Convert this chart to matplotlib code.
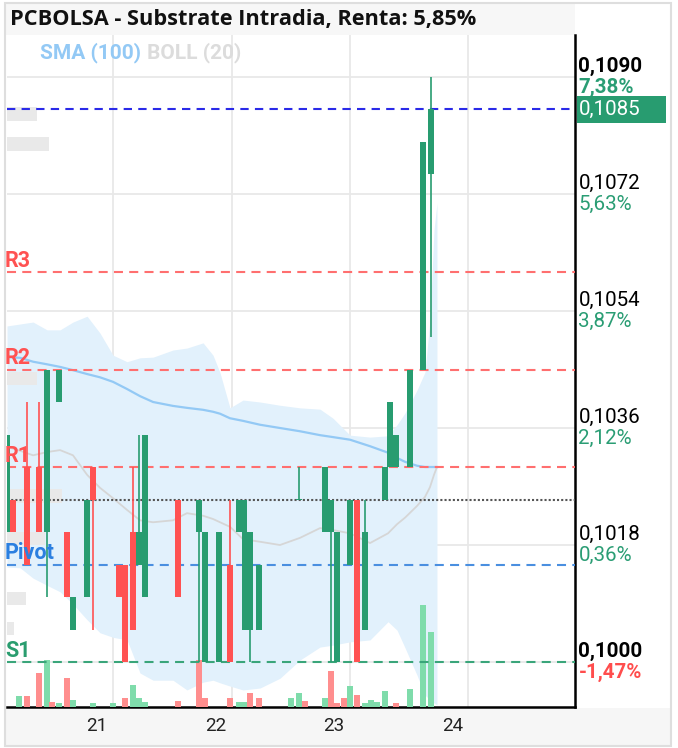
import numpy as np
import matplotlib
matplotlib.use("Agg")
import matplotlib.pyplot as plt
from matplotlib.patches import Rectangle
from matplotlib.transforms import blended_transform_factory

plt.rcParams['font.family'] = ['Roboto', 'DejaVu Sans']
plt.rcParams['lines.scale_dashes'] = False

# ---------------- data ----------------
# candles: time (day of month, fractional), open, high, low, close
c_time = [20.240, 20.291, 20.409, 20.511, 20.578, 20.679, 20.747, 20.797, 20.916, 20.966,
          21.186, 21.236, 21.304, 21.354, 21.405, 21.684, 21.861, 21.911, 22.030, 22.122,
          22.198, 22.245, 22.291, 22.367, 22.705, 22.924, 22.975, 23.025, 23.135, 23.194,
          23.262, 23.430, 23.473, 23.523, 23.641, 23.751, 23.819]
c_open = [0.1020, 0.1025, 0.1030, 0.1030, 0.1020, 0.1040, 0.1020, 0.1005, 0.1010, 0.1030,
          0.1015, 0.1015, 0.1020, 0.1015, 0.1010, 0.1025, 0.1020, 0.1000, 0.1000, 0.1015,
          0.1020, 0.1005, 0.1005, 0.1005, 0.1025, 0.1020, 0.1020, 0.1000, 0.1015, 0.1025,
          0.1005, 0.1025, 0.1030, 0.1030, 0.1030, 0.1045, 0.1075]
c_high = [0.1035, 0.1025, 0.1040, 0.1040, 0.1045, 0.1045, 0.1020, 0.1010, 0.1025, 0.1030,
          0.1015, 0.1015, 0.1030, 0.1035, 0.1035, 0.1025, 0.1025, 0.1020, 0.1020, 0.1025,
          0.1025, 0.1025, 0.1020, 0.1015, 0.1030, 0.1030, 0.1025, 0.1020, 0.1025, 0.1025,
          0.1025, 0.1030, 0.1040, 0.1035, 0.1045, 0.1080, 0.1090]
c_low = [0.1020, 0.1020, 0.1015, 0.1020, 0.1010, 0.1040, 0.1010, 0.1005, 0.1010, 0.1005,
         0.1010, 0.1000, 0.1005, 0.1015, 0.1010, 0.1010, 0.1000, 0.1000, 0.1000, 0.1000,
         0.1020, 0.1005, 0.1000, 0.1005, 0.1025, 0.1020, 0.1000, 0.1000, 0.1015, 0.1000,
         0.1005, 0.1025, 0.1030, 0.1030, 0.1030, 0.1045, 0.1050]
c_close = [0.1035, 0.1020, 0.1015, 0.1020, 0.1045, 0.1045, 0.1010, 0.1010, 0.1025, 0.1025,
           0.1010, 0.1000, 0.1005, 0.1020, 0.1035, 0.1010, 0.1025, 0.1020, 0.1020, 0.1000,
           0.1025, 0.1025, 0.1020, 0.1015, 0.1025, 0.1030, 0.1025, 0.1020, 0.1025, 0.1000,
           0.1020, 0.1030, 0.1040, 0.1035, 0.1045, 0.1080, 0.1085]

# volume: time, volume, up (1) / down (0)
v_time = [20.342, 20.409, 20.511, 20.578, 20.620, 20.679, 20.747, 20.797, 20.966, 21.135,
          21.236, 21.304, 21.354, 21.405, 21.684, 21.861, 21.911, 22.122, 22.198, 22.245,
          22.291, 22.367, 22.637, 22.705, 22.755, 22.924, 22.975, 23.025, 23.084, 23.135,
          23.194, 23.262, 23.312, 23.363, 23.430, 23.523, 23.641, 23.751, 23.819]
v_vol = [11000, 11000, 34000, 47000, 5000, 4000, 29000, 7000, 4000, 4000,
         9000, 22000, 9000, 5000, 6000, 47000, 9000, 9000, 5000, 5000,
         14000, 9000, 9000, 14000, 6000, 9000, 36000, 4000, 9000, 21000,
         12000, 4000, 7000, 5000, 16000, 4000, 18000, 102000, 75000]
v_up = [1, 0, 0, 1, 0, 1, 0, 1, 1, 1,
        0, 1, 1, 1, 0, 0, 0, 0, 1, 1,
        0, 0, 1, 1, 0, 1, 0, 0, 0, 1,
        0, 1, 1, 1, 1, 0, 1, 1, 1]

# indicators
i_time = [20.240, 20.350, 20.460, 20.578, 20.688, 20.797, 20.916, 21.025, 21.135, 21.253,
          21.363, 21.473, 21.641, 21.759, 21.895, 21.979, 22.038, 22.122, 22.232, 22.376,
          22.544, 22.713, 22.882, 22.992, 23.135, 23.304, 23.456, 23.532, 23.599, 23.700,
          23.768, 23.810, 23.844, 23.869]
boll_upper = [0.10517, 0.10520, 0.10523, 0.10511, 0.10511, 0.10523, 0.10532, 0.10506, 0.10472, 0.10462,
              0.10468, 0.10469, 0.10480, 0.10483, 0.10491, 0.10472, 0.10445, 0.10391, 0.10403, 0.10400,
              0.10395, 0.10391, 0.10389, 0.10375, 0.10349, 0.10346, 0.10348, 0.10365, 0.10383, 0.10418,
              0.10446, 0.10526, 0.10665, 0.10706]
boll_lower = [0.10146, 0.10145, 0.10129, 0.10118, 0.10108, 0.10089, 0.10065, 0.10045, 0.10038, 0.10034,
              0.09983, 0.09972, 0.09972, 0.09957, 0.09969, 0.09972, 0.09968, 0.09963, 0.09957, 0.09960,
              0.09975, 0.10003, 0.10023, 0.10026, 0.10031, 0.10034, 0.10062, 0.10049, 0.10022, 0.09980,
              0.09949, 0.09942, 0.09937, 0.09934]
boll_mid = [0.10331, 0.10325, 0.10318, 0.10323, 0.10326, 0.10318, 0.10288, 0.10268, 0.10252, 0.10234,
            0.10218, 0.10215, 0.10218, 0.10229, 0.10225, 0.10220, 0.10215, 0.10208, 0.10189, 0.10185,
            0.10180, 0.10191, 0.10206, 0.10203, 0.10198, 0.10183, 0.10198, 0.10212, 0.10222, 0.10240,
            0.10254, 0.10269, 0.10288, 0.10300]
sma100 = [0.10469, 0.10468, 0.10462, 0.10458, 0.10454, 0.10449, 0.10443, 0.10438, 0.10431, 0.10420,
          0.10409, 0.10400, 0.10394, 0.10391, 0.10388, 0.10385, 0.10382, 0.10375, 0.10371, 0.10365,
          0.10360, 0.10355, 0.10349, 0.10346, 0.10342, 0.10332, 0.10322, 0.10314, 0.10308, 0.10302,
          0.10300, 0.10300, 0.10300, 0.10300]

# levels
level_names = ['R3', 'R2', 'R1', 'Pivot', 'S1']
level_values = [0.1060, 0.1045, 0.1030, 0.1015, 0.1000]
last_price = 0.1085
prev_close = 0.1025

# axis labels
y_ticks = [0.1000, 0.1018, 0.1036, 0.1054, 0.1072, 0.1090]
y_tick_labels = ['0,1000', '0,1018', '0,1036', '0,1054', '0,1072', '0,1090']
y_pct_labels = ['-1,47%', '0,36%', '2,12%', '3,87%', '5,63%', '7,38%']
x_ticks = [21, 22, 23, 24]
x_tick_labels = ['21', '22', '23', '24']
x_grid = [21.135, 22.135, 23.135, 24.135]

title = 'PCBOLSA - Substrate Intradia, Renta: 5,85%'

# ---------------- style ----------------
GREEN = '#289c70'
RED = '#ff5252'
VGREEN = '#7fdcab'
VRED = '#ff8e8e'
W, H = 678, 748

fig = plt.figure(figsize=(W / 100, H / 100), dpi=100)
fig.patch.set_facecolor('white')

def fx(px):
    return px / W

def fy(py):
    return 1 - py / H

# frame, title band, bottom band (behind the axes)
fig.patches.append(Rectangle((fx(5), fy(746)), fx(666), 38 / H, transform=fig.transFigure,
                             facecolor='#f6f6f6', edgecolor='none', zorder=-3))
fig.patches.append(Rectangle((fx(5), fy(35)), fx(570), 31 / H, transform=fig.transFigure,
                             facecolor='#f7f7f7', edgecolor='none', zorder=-3))
fig.patches.append(Rectangle((fx(4.5), fy(746)), fx(666), 743 / H, transform=fig.transFigure,
                             facecolor='none', edgecolor='#dedede', lw=1.5, zorder=-2))

ax = fig.add_axes([fx(7), 1 - 707 / H, fx(568), 672 / H])
ax.set_facecolor('none')
ax.set_xlim(20.240, 25.034)
ax.set_ylim(0.099308, 0.109646)

# grid
ax.set_yticks(y_ticks)
ax.set_yticklabels([])
ax.tick_params(axis='y', length=0, right=False, left=False)
ax.set_xticks(x_ticks)
ax.set_xticklabels(x_tick_labels, fontsize=13.5, color='#222222')
ax.set_xticks(x_grid, minor=True)
ax.tick_params(axis='x', which='both', length=0, pad=7)
ax.grid(axis='y', color='#e8e8e8', lw=1.3, zorder=0)
ax.grid(axis='x', which='minor', color='#e8e8e8', lw=1.3, zorder=0)
ax.set_axisbelow(True)
for s in ['left', 'top']:
    ax.spines[s].set_visible(False)
ax.spines['right'].set_color('black')
ax.spines['right'].set_linewidth(1.8)
ax.spines['bottom'].set_color('black')
ax.spines['bottom'].set_linewidth(1.8)

# bollinger band
ax.fill_between(i_time, boll_lower, boll_upper, color='#e2f1fc', lw=0, zorder=1)
ax.plot(i_time, boll_mid, color='#d6d6d6', lw=1.3, zorder=2)
ax.plot(i_time, sma100, color='#93c9f5', lw=1.6, zorder=2)

# left blurred label boxes (decoration, drawn over band, under candles)
for (x0, y0, x1, y1) in [(7, 107, 37, 121), (7, 137, 49, 151), (7, 372, 37, 385),
                         (7, 489, 62, 503), (7, 532, 45, 545), (7, 592, 26, 605),
                         (7, 622, 14, 635)]:
    ax.add_patch(Rectangle((fx(x0), fy(y1)), fx(x1 - x0), (y1 - y0) / H,
                           transform=fig.transFigure, facecolor='#e9e9e9',
                           edgecolor='none', zorder=2.5, clip_on=False))

# volume (scaled into bottom of axes)
trans_v = blended_transform_factory(ax.transData, ax.transAxes)
vol_top = max(v_vol) * 6.6
vcol = [VGREEN if u else VRED for u in v_up]
ax.bar(v_time, np.array(v_vol) / vol_top, width=0.046, bottom=0, color=vcol,
       transform=trans_v, zorder=3, lw=0)

# level lines
lvl_colors = ['#ff6f6f', '#ff6f6f', '#ff6f6f', '#4a8fe0', '#3aa57a']
lbl_colors = ['#ff5252', '#ff5252', '#ff5252', '#2b7fe0', '#2a9d6f']
trans_y = blended_transform_factory(ax.transAxes, ax.transData)
for name, val, lc, tc in zip(level_names, level_values, lvl_colors, lbl_colors):
    ax.axhline(val, color=lc, lw=1.5, ls=(0, (6.5, 4.5)), zorder=4)
    ax.annotate(name, xy=(0, val), xycoords=trans_y,
                xytext=(-1.5, 0.3), textcoords='offset points', ha='left', va='bottom',
                fontsize=15.5, fontweight='bold', color=tc, zorder=6, annotation_clip=False)
ax.axhline(last_price, color='#2a2ae8', lw=1.5, ls=(0, (6, 4.5)), zorder=4)
ax.axhline(prev_close, color='#555555', lw=1.5, ls=(0, (1.5, 1.5)), zorder=4)

# candles
t = np.array(c_time)
o = np.array(c_open)
h = np.array(c_high)
l = np.array(c_low)
c = np.array(c_close)
up = c >= o
colors = np.where(up, GREEN, RED)
ax.vlines(t, l, h, colors=colors, lw=1.2, zorder=5)
body_bottom = np.minimum(o, c)
body_h = np.maximum(np.abs(c - o), 0.000012)
ax.bar(t, body_h, bottom=body_bottom, width=0.048, color=colors, lw=0, zorder=5)

# right axis labels
for val, lab, pct in zip(y_ticks, y_tick_labels, y_pct_labels):
    bold = val in (y_ticks[0], y_ticks[-1])
    pcol = '#ff4d4d' if pct.startswith('-') else '#2a9d74'
    ax.annotate(lab, xy=(1, val), xycoords=trans_y, xytext=(2.5, 7.9), textcoords='offset points',
                ha='left', va='center', fontsize=14.8, color='black',
                fontweight='bold' if bold else 'normal', annotation_clip=False)
    ax.annotate(pct, xy=(1, val), xycoords=trans_y, xytext=(2.5, -7.4), textcoords='offset points',
                ha='left', va='center', fontsize=14.8, color=pcol,
                fontweight='bold' if bold else 'normal', annotation_clip=False)

# last price tag
tag_h = 27 / 65000
ax.add_patch(Rectangle((1.0035, last_price - tag_h / 2), 89 / 568, tag_h, transform=trans_y,
                       facecolor='#289c70', edgecolor='none', clip_on=False, zorder=7))
ax.annotate('0,1085', xy=(1, last_price), xycoords=trans_y, xytext=(2.5, 0), textcoords='offset points',
            ha='left', va='center', fontsize=14.8, color='white', zorder=8, annotation_clip=False)

# title and legend
fig.text(fx(10), fy(20), title, fontsize=15.7, fontweight='bold', color='#111111', va='center', ha='left',
         family=['Open Sans', 'DejaVu Sans'])
fig.text(fx(40), fy(53), 'SMA (100)', fontsize=15, fontweight='bold', color='#93c9f5', va='center')
fig.text(fx(147), fy(53), 'BOLL (20)', fontsize=15, fontweight='bold', color='#dcdcdc', va='center')

fig.savefig('out.png', dpi=100)
